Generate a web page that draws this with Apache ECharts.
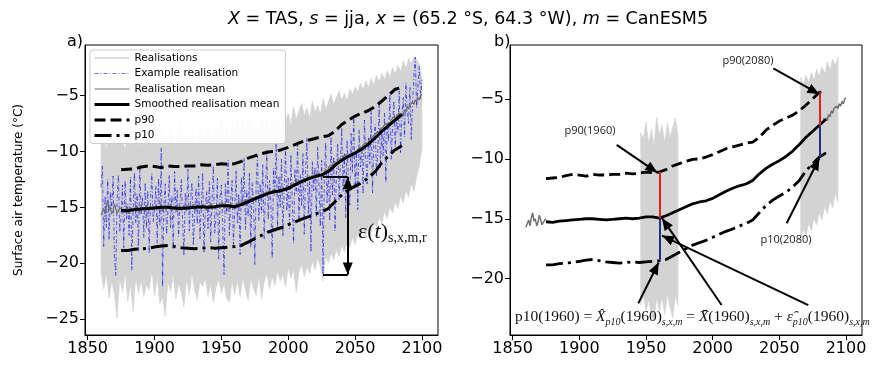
<!DOCTYPE html>
<html><head><meta charset="utf-8">
<script src="https://cdn.jsdelivr.net/npm/echarts@6/dist/echarts.min.js"></script>
<style>html,body{margin:0;padding:0;background:#fff}#c{width:883px;height:367px}</style>
</head><body><div id="c"></div>
<script>
// ---------------- DATA ----------------
const xTicks = [1850, 1900, 1950, 2000, 2050, 2100];
const yTicksA = [-25, -20, -15, -10, -5];
const yTicksB = [-20, -15, -10, -5];

// Example realisation, annual 1860..2100
const exampleStart = 1860;
const exampleReal = [
 -13.2,-11.3,-18.5,-14.0,-16.8,-12.5,-17.9,-13.6,-15.1,-12.2,-19.4,-21.1,-14.3,-12.1,-17.2,-15.8,-13.0,-18.6,-12.6,-16.1,
 -14.7,-17.5,-12.3,-20.6,-15.2,-11.9,-16.4,-13.8,-18.9,-11.2,-15.6,-14.1,-17.7,-12.8,-16.9,-13.5,-19.1,-14.4,-12.0,-16.3,
 -15.0,-13.1,-18.2,-12.4,-16.6,-9.7,-22.1,-14.8,-12.9,-17.4,-15.3,-12.1,-16.8,-14.0,-18.7,-11.8,-15.5,-13.4,-17.6,-14.6,
 -12.5,-16.2,-19.3,-13.7,-15.4,-11.6,-17.1,-14.2,-12.8,-18.4,-15.7,-13.3,-16.5,-12.2,-17.8,-14.9,-11.9,-19.0,-15.1,-13.6,
 -16.9,-12.7,-18.1,-14.5,-11.3,-17.3,-15.9,-12.4,-19.6,-14.1,-13.0,-16.7,-21.0,-12.9,-15.6,-10.8,-17.5,-14.3,-12.6,-18.3,
 -15.2,-11.7,-16.4,-13.8,-19.2,-12.3,-14.9,-10.6,-17.0,-13.5,-15.8,-11.9,-18.6,-12.8,-14.4,-20.1,-13.1,-10.4,-16.2,-12.9,
 -15.5,-11.2,-17.8,-13.4,-9.9,-16.1,-12.6,-14.7,-19.5,-11.5,-13.9,-8.9,-16.8,-12.2,-15.0,-10.7,-17.6,-13.2,-9.8,-15.3,
 -12.4,-16.9,-10.3,-14.5,-18.2,-11.6,-13.8,-9.4,-16.3,-12.1,-14.9,-10.2,-17.4,-11.8,-8.8,-15.6,-12.7,-19.0,-10.9,-13.5,
 -11.4,-15.8,-9.6,-13.2,-16.7,-10.8,-21.0,-12.3,-9.2,-14.6,-11.7,-16.2,-8.7,-13.9,-10.5,-17.1,-12.0,-9.3,-14.4,-11.1,
 -7.9,-13.6,-10.2,-15.9,-9.0,-12.5,-14.8,-8.4,-11.9,-6.9,-13.3,-10.0,-15.2,-8.1,-11.4,-9.5,-13.8,-7.2,-10.6,-12.9,
 -8.8,-11.1,-6.4,-13.7,-9.3,-7.6,-12.2,-9.9,-5.8,-11.5,-8.2,-10.4,-6.6,-12.8,-7.4,-9.1,-4.9,-10.7,-7.8,-5.5,
 -9.6,-6.9,-8.3,-4.6,-10.1,-7.0,-5.2,-8.7,-3.9,-6.4,-7.5,-4.3,-9.0,-5.7,-3.3,-1.6,-6.1,-4.2,-2.4,-5.3,-3.6
];

// Realisation (ensemble) mean, annual 1860..2100
const meanStart = 1860;
const realMean = [
 -15.7,-15.4,-15.1,-15.6,-14.9,-14.5,-15.2,-15.0,-15.6,-15.3,-14.7,-15.1,-15.5,-15.3,-15.2,
 -15.0,-15.5,-15.2,-15.4,-14.9,-15.3,-15.6,-15.1,-15.0,-15.4,-15.2,-14.8,-15.3,-15.1,-15.5,-14.9,-15.2,-15.0,-15.4,-14.8,-15.1,-15.3,-14.9,-15.2,-15.0,
 -15.2,-14.8,-15.1,-14.9,-15.3,-14.7,-15.4,-15.0,-14.8,-15.2,-14.9,-15.1,-14.7,-15.3,-15.0,-15.2,-14.8,-15.4,-15.1,-14.9,-15.3,-15.0,-14.8,-15.2,-15.1,
 -14.9,-15.2,-14.8,-15.1,-14.7,-15.3,-15.0,-14.8,-15.1,-14.9,-15.2,-14.7,-15.0,-14.8,-15.3,-14.9,-15.1,-14.6,-15.2,-14.9,-14.8,-15.1,-14.7,-15.0,-14.8,
 -14.9,-14.6,-15.1,-14.7,-14.9,-14.8,-15.2,-14.6,-15.0,-14.9,-15.1,-14.7,-14.9,-14.5,-14.8,-14.6,-14.4,-14.7,-14.3,-14.6,-14.4,-14.2,-14.5,-14.3,-14.1,
 -14.3,-14.0,-14.2,-13.9,-14.1,-13.8,-14.0,-13.7,-13.9,-13.6,-13.8,-13.5,-13.7,-13.8,-13.4,-13.6,-13.5,-13.7,-13.3,-13.6,-13.4,-13.2,-13.5,-13.3,-13.1,
 -13.2,-13.4,-12.9,-13.1,-12.8,-13.0,-12.7,-12.9,-12.6,-12.8,-12.5,-12.7,-12.4,-12.6,-12.3,-12.5,-12.2,-12.4,-12.1,-12.3,-12.2,-12.0,-12.3,-11.9,-12.1,
 -12.0,-12.3,-11.8,-11.6,-11.9,-11.5,-11.3,-11.6,-11.1,-11.3,-10.9,-11.1,-10.7,-10.9,-10.6,-10.8,-10.4,-10.6,-10.3,-10.5,-10.4,-10.2,-10.5,-10.1,-10.3,
 -10.0,-10.2,-9.8,-9.9,-9.6,-9.8,-9.4,-9.5,-9.2,-9.4,-9.1,-8.9,-9.0,-8.7,-8.8,-8.5,-8.6,-8.2,-8.4,-8.0,-8.1,-7.8,-7.9,-7.5,-7.7,
 -7.4,-7.6,-7.2,-7.3,-6.9,-7.1,-6.8,-6.9,-6.6,-6.8,
 -6.6,-6.8,-6.3,-6.5,-6.0,-6.2,-5.8,-5.9,-5.6,-5.8,-5.4,-5.6,-5.2,-5.4,-5.0,-4.9
];

// Smoothed mean and percentiles, every 5 years 1875..2085
const smoothStart = 1875, smoothStep = 5, smoothEnd = 2085;
const smoothMean = [-15.25,-15.3,-15.2,-15.15,-15.1,-15.05,-15.0,-15.0,-15.05,-15.1,-15.05,-15.0,-14.95,-15.0,-14.95,-14.85,-14.85,-14.95,-14.75,-14.5,-14.25,-14.0,-13.75,-13.6,-13.5,-13.3,-13.0,-12.7,-12.45,-12.25,-12.1,-11.8,-11.25,-10.8,-10.45,-10.15,-9.8,-9.35,-8.8,-8.2,-7.7,-7.2,-6.7];
const p90 = [-11.65,-11.6,-11.55,-11.4,-11.3,-11.35,-11.45,-11.3,-11.35,-11.35,-11.3,-11.3,-11.2,-11.25,-11.2,-11.1,-11.15,-11.1,-10.9,-10.6,-10.4,-10.2,-10.05,-10.0,-9.85,-9.65,-9.4,-9.15,-9.0,-8.85,-8.7,-8.6,-8.2,-7.6,-7.2,-6.85,-6.6,-6.35,-6.0,-5.5,-5.0,-4.45,-4.3];
const p10 = [-18.85,-18.85,-18.75,-18.7,-18.65,-18.55,-18.45,-18.4,-18.5,-18.6,-18.65,-18.7,-18.65,-18.6,-18.65,-18.6,-18.55,-18.5,-18.4,-18.1,-17.8,-17.5,-17.2,-17.0,-16.8,-16.55,-16.3,-16.05,-15.85,-15.6,-15.4,-15.1,-14.5,-13.9,-13.45,-13.1,-12.8,-12.35,-11.8,-11.0,-10.4,-9.85,-9.5];

// Envelope of all realisations, every 2 years 1860..2100
const envStart = 1860, envStep = 2;
const realUpper = [
 -9.5,-8.2,-9.8,-7.4,-9.1,-8.0,-9.6,-7.8,-8.9,-9.9,
 -7.5,-8.7,-9.4,-8.1,-9.7,-7.2,-8.8,-9.3,-8.0,-9.5,
 -7.9,-8.6,-6.8,-9.2,-8.3,-9.6,-7.6,-8.9,-9.4,-8.1,
 -7.3,-9.0,-8.4,-9.5,-7.7,-8.8,-9.2,-7.9,-8.5,-9.4,
 -7.4,-8.6,-9.0,-7.8,-8.3,-6.9,-8.7,-7.5,-8.9,-6.5,
 -8.0,-7.2,-8.6,-7.0,-8.2,-7.4,-6.6,-8.1,-7.3,-8.5,
 -6.8,-7.9,-7.1,-8.3,-6.4,-7.6,-6.9,-7.8,-6.2,-7.3,
 -6.6,-7.5,-6.0,-7.1,-6.4,-5.7,-6.8,-6.1,-7.0,-5.5,
 -6.5,-5.9,-6.7,-5.3,-6.2,-5.6,-4.9,-5.8,-5.2,-4.6,
 -5.4,-4.8,-5.5,-4.4,-4.9,-4.2,-4.7,-3.9,-4.5,-3.7,
 -4.3,-3.5,-4.1,-3.2,-3.8,-3.0,-3.6,-2.8,-3.4,-2.5,
 -3.1,-2.3,-2.9,-1.9,-2.6,-1.7,-2.2,-1.5,-1.8,-2.2,
 -3.5
];
const realLower = [
 -20.8,-22.3,-21.0,-23.1,-21.6,-22.8,-24.9,-21.4,-22.6,-20.9,
 -23.4,-21.8,-24.3,-21.2,-22.7,-21.5,-23.0,-21.9,-22.4,-20.7,
 -22.9,-21.3,-23.6,-23.0,-24.7,-21.7,-22.5,-21.1,-23.2,-21.8,
 -22.6,-23.9,-21.4,-22.8,-21.0,-22.4,-23.3,-21.6,-22.1,-21.3,
 -23.0,-21.9,-23.5,-22.2,-21.4,-22.7,-21.8,-23.1,-23.5,-21.6,
 -22.8,-21.5,-23.0,-21.3,-22.4,-23.3,-21.4,-22.2,-22.9,-21.1,
 -23.2,-21.7,-20.9,-22.3,-21.2,-22.0,-20.7,-21.6,-21.0,-22.1,
 -20.4,-21.3,-20.6,-22.6,-20.8,-20.1,-21.2,-20.3,-20.9,-19.8,
 -20.6,-19.5,-20.3,-21.6,-19.4,-20.0,-19.1,-19.7,-18.8,-19.4,
 -18.4,-19.0,-18.1,-18.6,-17.7,-18.3,-17.4,-17.9,-17.0,-17.5,
 -16.7,-17.2,-16.3,-16.8,-15.9,-16.4,-15.4,-16.0,-15.0,-15.5,
 -14.5,-15.1,-14.0,-14.6,-13.5,-14.1,-12.9,-13.6,-12.3,-11.3,
 -9.8
];

// Panel b windows and marked years
const windowsB = [[1945, 1975], [2065, 2095]];
const markYears = [1960, 2080];
const epsYear = 2026;

// ---------------- HELPERS ----------------
const FONT = 'DejaVu Sans', SERIF = 'Liberation Serif', ANNO = 'Open Sans';
const pairs = (start, step, vals) => vals.map((v, i) => [start + i * step, v]);
const valueAt = (start, step, vals, yr) => vals[Math.round((yr - start) / step)];
const minus = v => (v < 0 ? '\u2212' + Math.abs(v) : String(v));

const exP = pairs(exampleStart, 1, exampleReal);
const meanP = pairs(meanStart, 1, realMean);
const smP = pairs(smoothStart, smoothStep, smoothMean);
const p90P = pairs(smoothStart, smoothStep, p90);
const p10P = pairs(smoothStart, smoothStep, p10);
const envT = realUpper.map((u, i) => [envStart + i * envStep, realLower[i], u]);
const inWin = (arr, w) => arr.filter(p => p[0] >= w[0] && p[0] <= w[1]);

function xAxis(gi) {
  return {
    type: 'value', gridIndex: gi, min: 1848, max: 2112,
    axisLine: { show: true, onZero: false, lineStyle: { color: '#000', width: 1 } },
    axisTick: { show: true, length: 5, customValues: xTicks, lineStyle: { color: '#000', width: 1 } },
    axisLabel: { customValues: xTicks, formatter: v => String(v), fontSize: 16, color: '#000', fontFamily: FONT, margin: 6 },
    splitLine: { show: false }
  };
}
function yAxis(gi, min, max, ticks, name) {
  return {
    type: 'value', gridIndex: gi, min: min, max: max,
    name: name || '', nameLocation: 'middle', nameGap: 60,
    nameTextStyle: { fontSize: 12, fontFamily: FONT, color: '#000' },
    axisLine: { show: true, onZero: false, lineStyle: { color: '#000', width: 1 } },
    axisTick: { show: true, length: 5, customValues: ticks, lineStyle: { color: '#000', width: 1 } },
    axisLabel: { customValues: ticks, formatter: minus, fontSize: 16, color: '#000', fontFamily: FONT, margin: 6 },
    splitLine: { show: false }
  };
}
const GREY = '#d3d3d3';
// envelope of realisations as a polygon drawn through the axes' scales
function band(gi, data) {
  return {
    type: 'custom', name: '_band', xAxisIndex: gi, yAxisIndex: gi, silent: true, z: 1,
    encode: { x: 0, y: [1, 2] }, data: data, clip: true,
    renderItem: function (params, api) {
      if (params.dataIndex !== 0) return null;
      const top = data.map(d => api.coord([d[0], d[2]]));
      const bot = data.slice().reverse().map(d => api.coord([d[0], d[1]]));
      return { type: 'polygon', shape: { points: top.concat(bot) },
        style: { fill: GREY, stroke: GREY, lineWidth: 0.6 } };
    }
  };
}
const BLUE = 'rgba(0,0,255,0.62)';
const BLUEDASH = [4, 2, 1, 2];
const DASH = [11, 5], DASHDOT = [17, 5, 3, 5];
function curves(gi, w) {
  return [
    { type: 'line', name: 'Smoothed realisation mean', xAxisIndex: gi, yAxisIndex: gi, data: smP, symbol: 'none',
      lineStyle: { color: '#000', width: w }, itemStyle: { color: '#000' }, z: 4 },
    { type: 'line', name: 'p90', xAxisIndex: gi, yAxisIndex: gi, data: p90P, symbol: 'none',
      lineStyle: { color: '#000', width: w, type: DASH, cap: 'butt' }, itemStyle: { color: '#000' }, z: 4 },
    { type: 'line', name: 'p10', xAxisIndex: gi, yAxisIndex: gi, data: p10P, symbol: 'none',
      lineStyle: { color: '#000', width: w, type: DASHDOT, cap: 'butt' }, itemStyle: { color: '#000' }, z: 4 }
  ];
}
function meanLine(gi, data, w) {
  return { type: 'line', name: 'Realisation mean', xAxisIndex: gi, yAxisIndex: gi, data: data, symbol: 'none',
    lineStyle: { color: '#6e6e6e', width: w }, itemStyle: { color: '#6e6e6e' }, z: 3 };
}
const ARROW = { symbol: 'triangle', symbolSize: [10, 12], symbolOffset: [0, 6] };
const seg = (a, b, color, arrowEnd, arrowStart) => [
  Object.assign({ coord: a, lineStyle: { color: color, width: 2, type: 'solid' } }, arrowStart ? ARROW : { symbol: 'none' }),
  Object.assign({ coord: b }, arrowEnd ? ARROW : { symbol: 'none' })
];

// panel a epsilon annotation (data space)
const epsArrowX = 2044.5;
const epsTop = valueAt(meanStart, 1, realMean, epsYear);
const epsBot = valueAt(exampleStart, 1, exampleReal, epsYear);
const markA = [
  seg([epsYear, epsTop], [epsArrowX, epsTop], '#000'),
  seg([epsYear, epsBot], [epsArrowX, epsBot], '#000'),
  seg([epsArrowX, epsTop], [epsArrowX, epsBot], '#000', true, true)
];
// panel b marks
const markB = [];
markYears.forEach(y => {
  const hi = valueAt(smoothStart, smoothStep, p90, y);
  const md = valueAt(smoothStart, smoothStep, smoothMean, y);
  const lo = valueAt(smoothStart, smoothStep, p10, y);
  markB.push(seg([y, hi], [y, md], '#e3211c'));
  markB.push(seg([y, md], [y, lo], '#1f3288'));
});
const arrowsB = [
  [[1928, -8.84], [1958.5, -11.15]],
  [[2045.5, -2.45], [2080, -4.6]],
  [[2055.5, -15.38], [2080, -9.95]],
  [[1944.2, -22.06], [1959.5, -18.65]],
  [[2006.7, -22.2], [1962, -14.95]],
  [[2071.7, -22.2], [1962, -16.4]]
];
arrowsB.forEach(a => markB.push(seg(a[0], a[1], '#000', true)));

function markSeries(gi, data) {
  return { type: 'line', name: '_mark' + gi, xAxisIndex: gi, yAxisIndex: gi, data: [], symbol: 'none', z: 6,
    markLine: { silent: true, animation: false, label: { show: false }, emphasis: { disabled: true }, data: data } };
}

const series = [].concat(
  [{ type: 'line', name: 'Realisations', xAxisIndex: 0, yAxisIndex: 0, data: [], symbol: 'none',
     lineStyle: { color: GREY, width: 1.5 }, itemStyle: { color: GREY } }],
  [band(0, envT)],
  [{ type: 'line', name: 'Example realisation', xAxisIndex: 0, yAxisIndex: 0, data: exP, symbol: 'none',
     lineStyle: { color: BLUE, width: 1, type: BLUEDASH }, itemStyle: { color: BLUE }, z: 2 }],
  [meanLine(0, meanP, 1.2)],
  curves(0, 3),
  [markSeries(0, markA)],
  [band(1, inWin(envT, windowsB[0])), band(1, inWin(envT, windowsB[1]))],
  [meanLine(1, meanP.filter(p => p[0] <= smoothStart), 1.4), meanLine(1, meanP.filter(p => p[0] >= smoothEnd - 2), 1.4)],
  curves(1, 2.8),
  [markSeries(1, markB)]
);

const noSym = { color: 'rgba(0,0,0,0)', borderWidth: 0, borderColor: 'rgba(0,0,0,0)' };
const legendData = [
  { name: 'Realisations', itemStyle: noSym, lineStyle: { color: GREY, width: 1.5, type: 'solid' } },
  { name: 'Example realisation', itemStyle: noSym, lineStyle: { color: '#6f6fff', width: 1, type: BLUEDASH } },
  { name: 'Realisation mean', itemStyle: noSym, lineStyle: { color: '#6e6e6e', width: 1.2, type: 'solid' } },
  { name: 'Smoothed realisation mean', itemStyle: noSym, lineStyle: { color: '#000', width: 3, type: 'solid' } },
  { name: 'p90', itemStyle: noSym, lineStyle: { color: '#000', width: 3, type: DASH } },
  { name: 'p10', itemStyle: noSym, lineStyle: { color: '#000', width: 3, type: DASHDOT } }
];

const chart = echarts.init(document.getElementById('c'), null, { renderer: 'canvas' });
chart.setOption({
  animation: false,
  backgroundColor: '#fff',
  title: [
    { text: '{i|X} = TAS, {i|s} = jja, {i|x} = (65.2 °S, 64.3 °W), {i|m} = CanESM5', left: 463, top: 5, textAlign: 'center',
      textStyle: { fontSize: 17.5, fontWeight: 'normal', fontFamily: FONT, color: '#000',
        rich: { i: { fontSize: 17.5, fontStyle: 'italic', fontFamily: FONT, color: '#000' } } } },
    { text: 'a)', left: 62, top: 29, textStyle: { fontSize: 16, fontWeight: 'normal', fontFamily: FONT, color: '#000' } },
    { text: 'b)', left: 489, top: 29, textStyle: { fontSize: 16, fontWeight: 'normal', fontFamily: FONT, color: '#000' } }
  ],
  grid: [
    { left: 85, top: 45, width: 353, height: 290, show: true, borderColor: '#000', borderWidth: 1, backgroundColor: 'rgba(0,0,0,0)' },
    { left: 510, top: 45, width: 352, height: 290, show: true, borderColor: '#000', borderWidth: 1, backgroundColor: 'rgba(0,0,0,0)' }
  ],
  xAxis: [xAxis(0), xAxis(1)],
  yAxis: [yAxis(0, -26.4, -0.5, yTicksA, 'Surface air temperature (°C)'), yAxis(1, -24.7, -0.5, yTicksB)],
  legend: {
    data: legendData, orient: 'vertical', left: 90, top: 50, itemWidth: 35, itemHeight: 10, itemGap: 3.5,
    padding: [2, 6, 2, 3], borderColor: '#cccccc', borderWidth: 1, borderRadius: 3,
    backgroundColor: 'rgba(255,255,255,0.92)', selectedMode: false, z: 10,
    textStyle: { fontSize: 10.5, fontFamily: FONT, color: '#000', lineHeight: 12 }
  },
  series: series
});

// text annotations positioned through the chart's own scales
const P = (gi, pt) => chart.convertToPixel({ gridIndex: gi }, pt);
const annoStyle = { fontFamily: ANNO, fontSize: 11, fill: '#222', align: 'center', verticalAlign: 'middle' };
const labB = [['p90(1960)', [1908, -7.68]], ['p90(2080)', [2026.5, -1.84]], ['p10(2080)', [2055, -16.77]]];
const graphics = labB.map(l => {
  const p = P(1, l[1]);
  return { type: 'text', x: p[0], y: p[1], z: 100, style: Object.assign({ text: l[0] }, annoStyle) };
});
const eqP = P(1, [1851.75, -23.2]);
graphics.push({ type: 'text', x: eqP[0], y: eqP[1], z: 100, style: {
  text: '{n|p10(1960) = }{i|X\u0302}{s|p10}{n|(1960)}{s|s,x,m}{n| = }{i|X\u0304}{n|(1960)}{s|s,x,m}{n| + }{i|\u03B5\u0302}{s|p10}{n|(1960)}{s|s,x,m}',
  align: 'left', verticalAlign: 'middle',
  rich: {
    n: { fontFamily: SERIF, fontSize: 15.5, lineHeight: 20, fill: '#111', verticalAlign: 'middle' },
    i: { fontFamily: SERIF, fontSize: 15.5, fontStyle: 'italic', lineHeight: 20, fill: '#111', verticalAlign: 'middle' },
    s: { fontFamily: SERIF, fontSize: 10, fontStyle: 'italic', lineHeight: 11, fill: '#111', verticalAlign: 'bottom' }
  } } });
const epP = P(0, [2052.2, -17.2]);
graphics.push({ type: 'text', x: epP[0], y: epP[1], z: 100, style: {
  text: '{e|\u03B5(}{t|t}{e|)}{s|s,x,m,r}', align: 'left', verticalAlign: 'middle',
  rich: {
    e: { fontFamily: SERIF, fontSize: 22, lineHeight: 26, fill: '#111', verticalAlign: 'middle' },
    t: { fontFamily: SERIF, fontSize: 22, fontStyle: 'italic', lineHeight: 26, fill: '#111', verticalAlign: 'middle' },
    s: { fontFamily: SERIF, fontSize: 14, lineHeight: 14, fill: '#111', verticalAlign: 'bottom' }
  } } });
chart.setOption({ graphic: graphics });
</script>
</body></html>
